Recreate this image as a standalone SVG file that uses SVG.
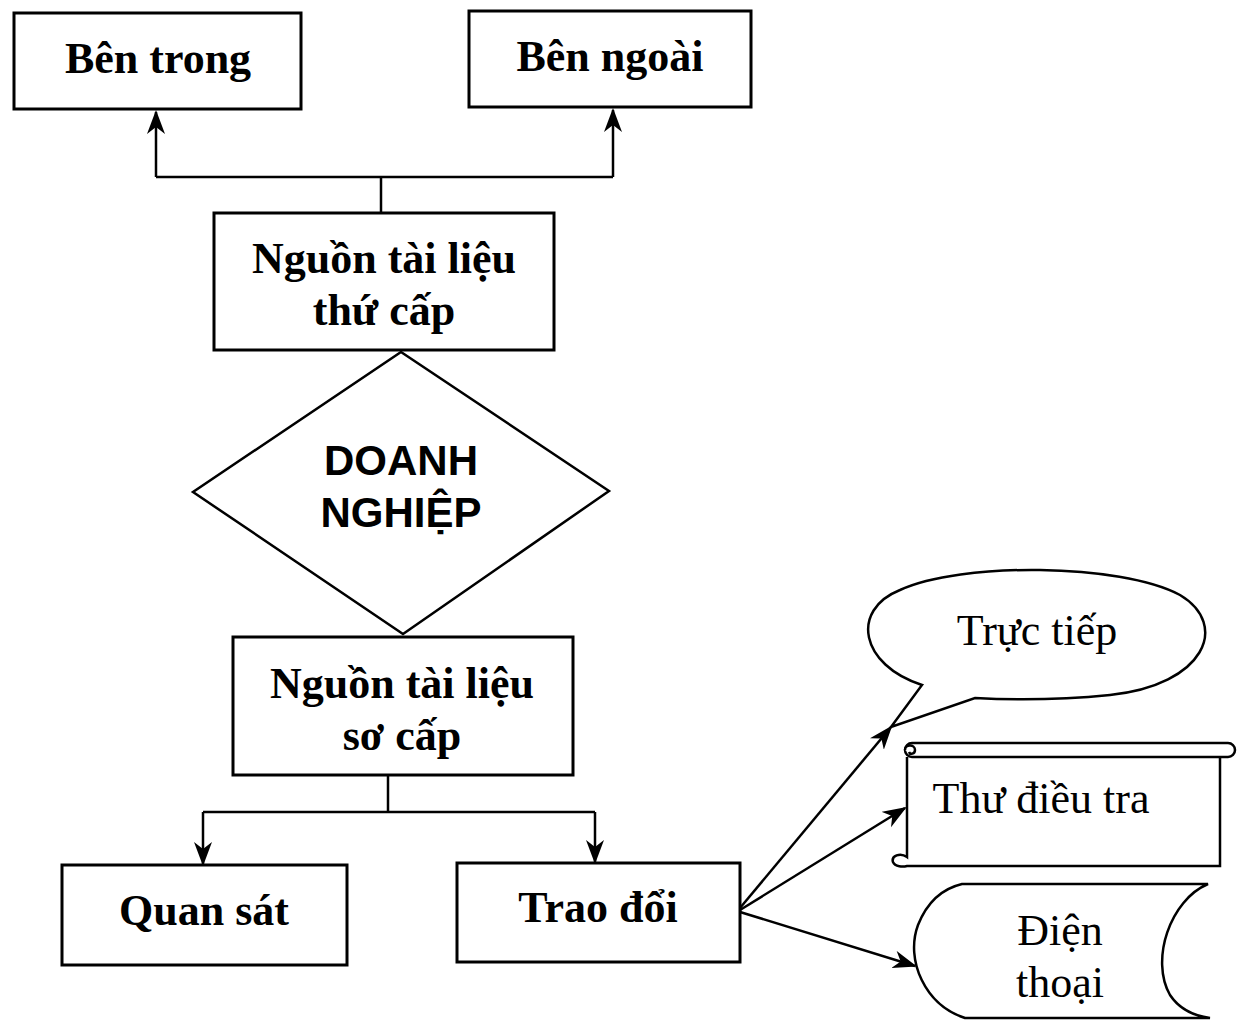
<svg xmlns="http://www.w3.org/2000/svg" width="1239" height="1020" viewBox="0 0 1239 1020">
<style>
.box{fill:#fff;stroke:#000;stroke-width:3}
.shape{fill:#fff;stroke:#000;stroke-width:2.5}
.t{font-family:"Liberation Serif","Times New Roman",serif;font-size:44px;text-anchor:middle;fill:#000}
.b{font-weight:bold}
.s{font-family:"Liberation Sans",Arial,sans-serif;font-weight:bold;font-size:42px;text-anchor:middle;fill:#000}
.c{fill:none;stroke:#000;stroke-width:2.5}
</style>
<defs>
<marker id="ah" markerUnits="userSpaceOnUse" markerWidth="26" markerHeight="20" refX="22" refY="9" orient="auto">
<path d="M0,0 L24,9 L0,18 L7,9 z" fill="#000"/>
</marker>
</defs>
<rect width="1239" height="1020" fill="#fff"/>
<g id="connectors">
<path class="c" d="M381,213 V177"/>
<path class="c" d="M156,177 H613"/>
<path class="c" d="M156,177 V112" marker-end="url(#ah)"/>
<path class="c" d="M613,177 V110" marker-end="url(#ah)"/>
<path class="c" d="M388,775 V812"/>
<path class="c" d="M203,812 H595"/>
<path class="c" d="M203,812 V864" marker-end="url(#ah)"/>
<path class="c" d="M595,812 V862" marker-end="url(#ah)"/>
<path class="c" d="M740,908 L891,727" marker-end="url(#ah)"/>
<path class="c" d="M740,910 L905,808" marker-end="url(#ah)"/>
<path class="c" d="M740,912 L915,966" marker-end="url(#ah)"/>
</g>
<g id="ben-trong">
<rect class="box" x="14" y="13" width="287" height="96"/>
<text class="t b" x="158" y="73">Bên trong</text>
</g>
<g id="ben-ngoai">
<rect class="box" x="469" y="11" width="282" height="96"/>
<text class="t b" x="610" y="71">Bên ngoài</text>
</g>
<g id="nguon-thu-cap">
<rect class="box" x="214" y="213" width="340" height="137"/>
<text class="t b" x="384" y="273">Nguồn tài liệu</text>
<text class="t b" x="384" y="325">thứ cấp</text>
</g>
<g id="doanh-nghiep">
<polygon class="shape" points="401,352 609,491 403,634 193,492"/>
<text class="s" x="401" y="475">DOANH</text>
<text class="s" x="401" y="527">NGHIỆP</text>
</g>
<g id="nguon-so-cap">
<rect class="box" x="233" y="637" width="340" height="138"/>
<text class="t b" x="402" y="698">Nguồn tài liệu</text>
<text class="t b" x="402" y="750">sơ cấp</text>
</g>
<g id="quan-sat">
<rect class="box" x="62" y="865" width="285" height="100"/>
<text class="t b" x="204" y="925">Quan sát</text>
</g>
<g id="trao-doi">
<rect class="box" x="457" y="863" width="283" height="99"/>
<text class="t b" x="598" y="922">Trao đổi</text>
</g>
<g id="truc-tiep">
<path class="shape" d="M922,685 C860,665 850,610 900,590 C960,562 1120,563 1180,595 C1230,625 1205,685 1110,695 C1060,700 1010,700 975,698 L891,727 Z"/>
<text class="t" x="1037" y="645">Trực tiếp</text>
</g>
<g id="thu-dieu-tra">
<path class="shape" d="M907,757 V857 C900,852 891,856 893,862 C895,867 903,867 907,866 H1220 V757"/>
<rect class="shape" x="905" y="743" width="330" height="14" rx="7"/>
<path class="shape" d="M905,750 C905,744 915,744 915,750 C915,754 910,755 909,752"/>
<text class="t" x="1041" y="813">Thư điều tra</text>
</g>
<g id="dien-thoai">
<path class="shape" d="M962,884 H1208 C1170,900 1150,960 1170,995 C1180,1010 1195,1016 1210,1018 H965 C925,1005 905,960 918,925 C928,900 945,888 962,884 Z"/>
<text class="t" x="1060" y="945">Điện</text>
<text class="t" x="1060" y="997">thoại</text>
</g>
</svg>
